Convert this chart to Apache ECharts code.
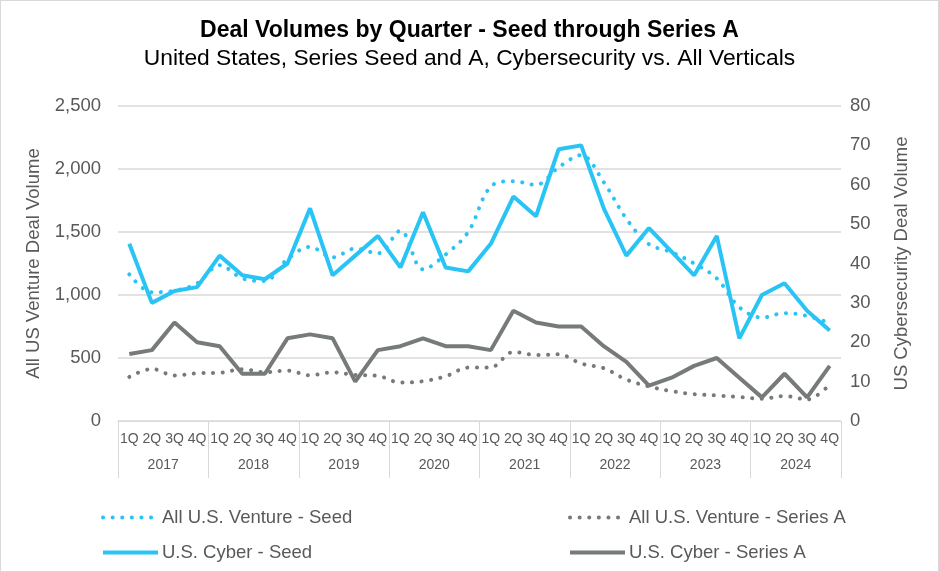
<!DOCTYPE html>
<html>
<head>
<meta charset="utf-8">
<script src="https://cdn.jsdelivr.net/npm/echarts@6/dist/echarts.min.js"></script>
<style>
html,body{margin:0;padding:0;background:#fff;}
#c{width:939px;height:572px;box-sizing:border-box;border:1px solid #d9d9d9;}
</style>
</head>
<body>
<div id="c"></div>
<script>
const quarters = ['1Q','2Q','3Q','4Q','1Q','2Q','3Q','4Q','1Q','2Q','3Q','4Q','1Q','2Q','3Q','4Q',
                  '1Q','2Q','3Q','4Q','1Q','2Q','3Q','4Q','1Q','2Q','3Q','4Q','1Q','2Q','3Q','4Q'];
const years = ['2017','2018','2019','2020','2021','2022','2023','2024'];
const allSeed = [1164,1022,1034,1092,1237,1132,1111,1285,1382,1298,1369,1330,1510,1203,1321,1500,
                 1861,1903,1874,2013,2110,1895,1605,1403,1340,1250,1132,903,821,856,834,777];
const allSeriesA = [350,413,361,379,382,411,387,400,363,387,365,358,305,316,355,424,
                    426,548,524,529,456,419,329,274,237,213,203,190,177,198,171,290];
const cyberSeed = [45,30,33,34,42,37,36,40,54,37,42,47,39,53,39,38,
                   45,57,52,69,70,54,42,49,43,37,47,21,32,35,28,23];
const cyberSeriesA = [17,18,25,20,19,12,12,21,22,21,10,18,19,21,19,19,
                      18,28,25,24,24,19,15,9,11,14,16,11,6,12,6,14];
const leftTicks = {min:0, max:2500, interval:500};
const rightTicks = {min:0, max:80, interval:10};

const BLUE = '#29C4F5';
const GRAY = '#767B7A';
const TXT = '#595959';
const FONT = 'Liberation Sans, Arial, sans-serif';

const chart = echarts.init(document.getElementById('c'), null, {renderer:'canvas'});
const dotted = {type:[0.1, 9.5], cap:'round', width:4};
const legendCommon = {orient:'vertical', top:502, itemWidth:55, itemHeight:14, itemGap:16,
  textStyle:{fontFamily:FONT, fontSize:18.5, color:TXT, padding:[0,0,0,-1]},
  itemStyle:{opacity:0}, lineStyle:{width:4}};
chart.setOption({
  animation:false,
  textStyle:{fontFamily:FONT},
  title:[
    {text:'Deal Volumes by Quarter - Seed through Series A', left:'center', top:13,
     textStyle:{fontFamily:FONT, fontSize:23, fontWeight:'bold', color:'#000'}},
    {text:'United States, Series Seed and A, Cybersecurity vs. All Verticals', left:'center', top:41,
     textStyle:{fontFamily:FONT, fontSize:22.8, fontWeight:'normal', color:'#000'}}
  ],
  legend:[
    Object.assign({data:['All U.S. Venture - Seed','U.S. Cyber - Seed'], left:95}, legendCommon),
    Object.assign({data:['All U.S. Venture - Series A','U.S. Cyber - Series A'], left:562}, legendCommon)
  ],
  grid:{left:117, right:97, top:105, bottom:150},
  xAxis:[
    {type:'category', data:quarters, position:'bottom', boundaryGap:true,
     axisLine:{show:true, lineStyle:{color:'#d9d9d9', width:1}},
     axisTick:{show:false},
     axisLabel:{interval:0, margin:11, fontSize:14, color:TXT, fontFamily:FONT}},
    {type:'category', data:years, position:'bottom', boundaryGap:true,
     axisLine:{show:false},
     axisTick:{show:true, length:57, lineStyle:{color:'#d9d9d9', width:1}},
     axisLabel:{interval:0, margin:37, fontSize:14, color:TXT, fontFamily:FONT}}
  ],
  yAxis:[
    {type:'value', min:leftTicks.min, max:leftTicks.max, interval:leftTicks.interval, position:'left',
     name:'All US Venture Deal Volume', nameLocation:'middle', nameGap:66, nameRotate:90,
     nameTextStyle:{fontFamily:FONT, fontSize:18.5, color:TXT},
     axisLine:{show:false}, axisTick:{show:false},
     axisLabel:{margin:17, fontSize:18.5, color:TXT, fontFamily:FONT,
       formatter:v=>v.toLocaleString('en-US')},
     splitLine:{show:true, lineStyle:{color:'#d9d9d9', width:1.5}}},
    {type:'value', min:rightTicks.min, max:rightTicks.max, interval:rightTicks.interval, position:'right',
     name:'US Cybersecurity Deal Volume', nameLocation:'middle', nameGap:51, nameRotate:90,
     nameTextStyle:{fontFamily:FONT, fontSize:18.5, color:TXT},
     axisLine:{show:false}, axisTick:{show:false},
     axisLabel:{margin:9, fontSize:18.5, color:TXT, fontFamily:FONT},
     splitLine:{show:false}}
  ],
  series:[
    {name:'All U.S. Venture - Seed', type:'line', xAxisIndex:0, yAxisIndex:0, data:allSeed,
     symbol:'none', smooth:0.35, lineStyle:Object.assign({color:BLUE}, dotted), itemStyle:{color:BLUE}, z:2},
    {name:'All U.S. Venture - Series A', type:'line', xAxisIndex:0, yAxisIndex:0, data:allSeriesA,
     symbol:'none', smooth:0.35, lineStyle:Object.assign({color:GRAY}, dotted), itemStyle:{color:GRAY}, z:2},
    {name:'U.S. Cyber - Seed', type:'line', xAxisIndex:0, yAxisIndex:1, data:cyberSeed,
     symbol:'none', lineStyle:{color:BLUE, width:4}, itemStyle:{color:BLUE}, z:3},
    {name:'U.S. Cyber - Series A', type:'line', xAxisIndex:0, yAxisIndex:1, data:cyberSeriesA,
     symbol:'none', lineStyle:{color:GRAY, width:4}, itemStyle:{color:GRAY}, z:3}
  ]
});
</script>
</body>
</html>
